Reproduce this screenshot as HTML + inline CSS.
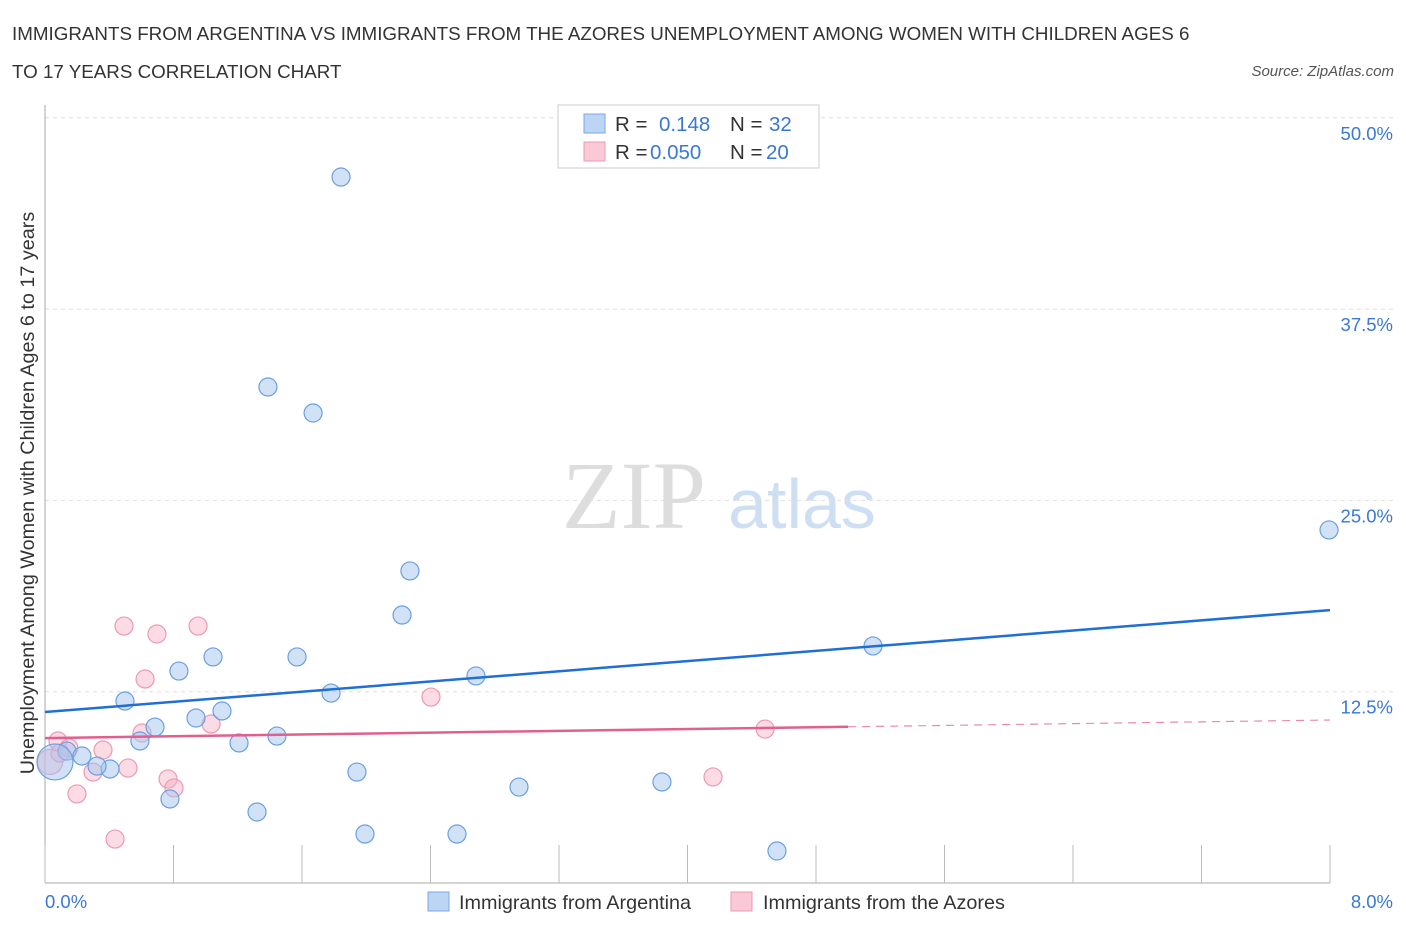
<!DOCTYPE html>
<html><head><meta charset="utf-8">
<style>
body{margin:0;background:#fff;font-family:"Liberation Sans",sans-serif;}
svg{display:block}
</style></head><body>
<svg id="chart" width="1406" height="930" xmlns="http://www.w3.org/2000/svg">
<text x="12" y="40" font-size="18.8" fill="#333">IMMIGRANTS FROM ARGENTINA VS IMMIGRANTS FROM THE AZORES UNEMPLOYMENT AMONG WOMEN WITH CHILDREN AGES 6</text>
<text x="12" y="78" font-size="18.8" fill="#333">TO 17 YEARS CORRELATION CHART</text>
<text x="1394" y="76" font-size="15" fill="#555" font-style="italic" text-anchor="end">Source: ZipAtlas.com</text>
<text x="634" y="528" font-size="96" fill="#ddd" font-family="Liberation Serif,serif" text-anchor="middle">ZIP</text>
<text x="802" y="528" font-size="70" fill="#cfdff3" text-anchor="middle">atlas</text>
<g id="grid"></g>
<g id="axes"></g>
<g id="marks"></g>
<text transform="translate(34,493) rotate(-90)" font-size="19.8" fill="#333" text-anchor="middle">Unemployment Among Women with Children Ages 6 to 17 years</text>
<text x="45" y="908" font-size="18.5" fill="#3a78d4">0.0%</text>
<text x="1393" y="908" font-size="18.5" fill="#3a78d4" text-anchor="end">8.0%</text>
<g>
<rect x="558" y="105" width="261" height="63" fill="#fff" stroke="#ccc"/>
<rect x="584" y="114" width="21" height="19" fill="#bcd5f5" stroke="#7aa8e4"/>
<rect x="584" y="142" width="21" height="19" fill="#fbc8d7" stroke="#eb9ab2"/>
<text x="615" y="131" font-size="20.5" fill="#333">R = </text><text x="659" y="131" font-size="20.5" fill="#3a78d4">0.148</text>
<text x="730" y="131" font-size="20.5" fill="#333">N = </text><text x="769" y="131" font-size="20.5" fill="#3a78d4">32</text>
<text x="615" y="159" font-size="20.5" fill="#333">R = </text><text x="650" y="159" font-size="20.5" fill="#3a78d4">0.050</text>
<text x="730" y="159" font-size="20.5" fill="#333">N = </text><text x="766" y="159" font-size="20.5" fill="#3a78d4">20</text>
</g>
<g>
<rect x="428" y="892" width="21" height="19" fill="#bcd5f5" stroke="#7aa8e4"/>
<text x="459" y="909" font-size="19.8" fill="#333">Immigrants from Argentina</text>
<rect x="731" y="892" width="21" height="19" fill="#fbc8d7" stroke="#eb9ab2"/>
<text x="763" y="909" font-size="19.8" fill="#333">Immigrants from the Azores</text>
</g>
</svg>
<script>
const yTicks=[12.5,25,37.5,50];
const yTickLabels=["12.5%","25.0%","37.5%","50.0%"];
const xTicks=[0,0.8,1.6,2.4,3.2,4,4.8,5.6,6.4,7.2,8];
const blueX=[1.843,1.388,1.669,2.272,2.223,5.155,7.994,0.834,1.046,1.569,2.683,0.498,1.781,0.940,1.102,0.685,0.591,1.208,1.444,0.137,0.230,0.405,0.324,0.062,1.942,0.778,2.951,3.841,1.320,1.992,2.565,4.557];
const blueY=[46.13,32.41,30.71,20.39,17.51,15.49,23.07,13.85,14.77,14.77,13.53,11.89,12.41,10.78,11.24,10.19,9.28,9.15,9.60,8.62,8.30,7.45,7.64,7.91,7.25,5.49,6.27,6.60,4.64,3.20,3.20,2.09];
const blueSize=[1,1,1,1,1,1,1,1,1,1,1,1,1,1,1,1,1,1,1,1,1,1,1,2,1,1,1,1,1,1,1,1];
const pinkX=[0.492,0.697,0.953,0.623,2.403,1.034,0.604,0.081,0.361,0.517,0.299,0.766,0.803,0.199,4.159,4.483,0.436,0.031,0.149,0.093];
const pinkY=[16.79,16.27,16.79,13.33,12.15,10.39,9.80,9.28,8.69,7.51,7.25,6.80,6.21,5.82,6.93,10.06,2.87,7.91,8.82,8.49];
const pinkSize=[1,1,1,1,1,1,1,1,1,1,1,1,1,1,1,1,1,1.4,1,1];
const blueLine=[11.17,17.83];
const pinkLine=[9.47,10.65];
const pinkSolidEnd=5.0;
const NS="http://www.w3.org/2000/svg";
const X=v=>45+v/8*1285, Y=v=>883-v/12.5*191.3;
function mk(tag,attrs,parent){const e=document.createElementNS(NS,tag);for(const k in attrs)e.setAttribute(k,attrs[k]);document.getElementById(parent).appendChild(e);return e;}
yTicks.forEach((t,i)=>{
 const l=mk('line',{x1:45,x2:1394,y1:Y(t),y2:Y(t),stroke:'#ddd','stroke-dasharray':'4,4'},'grid');
 
 
 const tx=mk('text',{x:1393,y:Y(t)+22,'font-size':18.5,fill:'#3a78d4','text-anchor':'end'},'grid');
 tx.textContent=yTickLabels[i];
 
 
});
const ax=mk('line',{x1:45,x2:45,y1:105,y2:883,stroke:'#aaa'},'axes');


const bx=mk('line',{x1:45,x2:1330,y1:883,y2:883,stroke:'#aaa'},'axes');


xTicks.forEach(t=>{
 const l=mk('line',{x1:X(t),x2:X(t),y1:845,y2:883,stroke:'#bbb'},'axes');
 
 
});
pinkX.forEach((v,i)=>{
 const c=mk('circle',{cx:X(v),cy:Y(pinkY[i]),r:9*pinkSize[i],fill:'rgba(248,175,198,0.45)',stroke:'#eb9ab2','stroke-width':1.2},'marks');
 
 
});
blueX.forEach((v,i)=>{
 const c=mk('circle',{cx:X(v),cy:Y(blueY[i]),r:9*blueSize[i],fill:'rgba(164,198,240,0.5)',stroke:'#6a9fe0','stroke-width':1.2},'marks');
 
 
});
const bl=mk('line',{x1:X(0),y1:Y(blueLine[0]),x2:X(8),y2:Y(blueLine[1]),stroke:'#1f6fd6','stroke-width':2.5},'marks');


const pm=pinkLine[0]+(pinkLine[1]-pinkLine[0])*pinkSolidEnd/8;
const pl=mk('line',{x1:X(0),y1:Y(pinkLine[0]),x2:X(pinkSolidEnd),y2:Y(pm),stroke:'#e0608f','stroke-width':2.5},'marks');


const pd=mk('line',{x1:X(pinkSolidEnd),y1:Y(pm),x2:X(8),y2:Y(pinkLine[1]),stroke:'#e88aab','stroke-width':1.2,'stroke-dasharray':'8,6'},'marks');


</script>
</body></html>
